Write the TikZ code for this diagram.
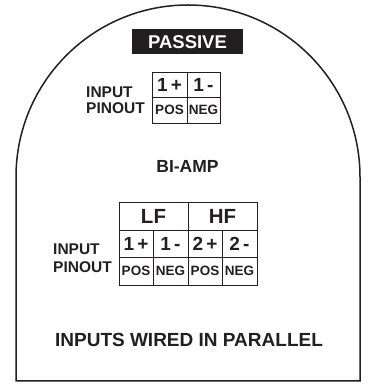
\documentclass[tikz,border=0pt]{standalone}
\usepackage{fontspec}
\setmainfont{Liberation Sans}
\definecolor{ink}{HTML}{231F20}

\begin{document}
\begin{tikzpicture}[x=1pt,y=1pt]
\tikzstyle{outline_style} = [ink, line width=1.5]
\tikzstyle{cell_style} = [draw=ink, line width=0.9, inner sep=0, text depth=0pt, text=ink]
\tikzstyle{head_cell} = [cell_style, font=\fontsize{20.5}{20.5}\selectfont\bfseries, text height=14.7]
\tikzstyle{pin_cell} = [cell_style, font=\fontsize{19}{19}\selectfont\bfseries, text height=13.6]
\tikzstyle{pol_cell} = [cell_style, font=\fontsize{13.5}{13.5}\selectfont\bfseries, text height=9.7]
\tikzstyle{label_style} = [anchor=base west, inner sep=0, text=ink, font=\fontsize{15.5}{15.5}\selectfont\bfseries]
\tikzstyle{title_style} = [inner sep=0, text depth=0pt, text=ink]
    \useasboundingbox (0,0) rectangle (368,385);

    % housing outline
    \draw[outline_style] (16,4) -- (16,208) arc[start angle=180, end angle=0, radius=172] -- (360,4) -- cycle;

    \node[title_style, fill=ink, text=white, minimum width=111, minimum height=25,
          font=\fontsize{18.5}{18.5}\selectfont\bfseries, text height=13.2] (passive) at (187.5,343.5) {PASSIVE};

    % passive pinout
    \node[label_style] (in1) at (86,287) {INPUT};
    \node[label_style] (po1) at (86,271) {PINOUT};
    \node[pin_cell, minimum width=35, minimum height=25] (p1pos) at (169.5,300.5) {1\,+};
    \node[pin_cell, minimum width=33, minimum height=25] (p1neg) at (203.5,300.5) {1\,-};
    \node[pol_cell, minimum width=35, minimum height=26] (p1a) at (169.5,275) {POS};
    \node[pol_cell, minimum width=33, minimum height=26] (p1b) at (203.5,275) {NEG};

    \node[title_style, font=\fontsize{17.5}{17.5}\selectfont\bfseries, text height=12.5] (biamp) at (187.5,219) {BI-AMP};

    % bi-amp pinout
    \node[label_style] (in2) at (53,130) {INPUT};
    \node[label_style] (po2) at (53,112) {PINOUT};
    \node[head_cell, minimum width=69, minimum height=28] (lf) at (153.5,169) {LF};
    \node[head_cell, minimum width=69, minimum height=28] (hf) at (222.5,169) {HF};
    \node[pin_cell, minimum width=34, minimum height=27] (b1pos) at (136,141.5) {1\,+};
    \node[pin_cell, minimum width=35, minimum height=27] (b1neg) at (170.5,141.5) {1\,-};
    \node[pin_cell, minimum width=34, minimum height=27] (b2pos) at (205,141.5) {2\,+};
    \node[pin_cell, minimum width=35, minimum height=27] (b2neg) at (239.5,141.5) {2\,-};
    \node[pol_cell, minimum width=34, minimum height=28] (b1a) at (136,114) {POS};
    \node[pol_cell, minimum width=35, minimum height=28] (b1b) at (170.5,114) {NEG};
    \node[pol_cell, minimum width=34, minimum height=28] (b2a) at (205,114) {POS};
    \node[pol_cell, minimum width=35, minimum height=28] (b2b) at (239.5,114) {NEG};

    \node[title_style, font=\fontsize{19}{19}\selectfont\bfseries, text height=13.6] (parallel) at (189,45.5) {INPUTS WIRED IN PARALLEL};
\end{tikzpicture}
\end{document}
